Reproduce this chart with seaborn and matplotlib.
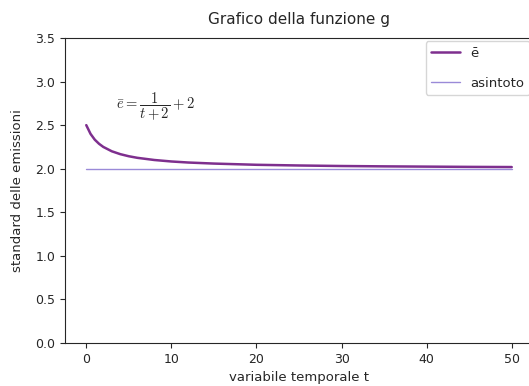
import numpy as np
import pandas as pd
import seaborn as sns
import matplotlib.pyplot as plt

# values
t_vals = [0, 0.5, 1, 1.5, 2, 3, 4, 5, 6, 8, 10, 12, 15, 20, 25, 30, 35, 40, 45, 50]
e_vals = [2.50, 2.40, 2.333, 2.286, 2.25, 2.20, 2.167, 2.143, 2.125, 2.10, 2.083,
          2.071, 2.059, 2.045, 2.037, 2.031, 2.027, 2.024, 2.021, 2.019]
asym_t = [0, 50]
asym_y = [2.0, 2.0]

sns.set_style("ticks")
plt.rcParams['mathtext.fontset'] = 'cm'

fig = plt.figure(figsize=(5.29, 3.86), dpi=100)
# axes run a little past the right edge, as in the (cropped) reference
ax = fig.add_axes([65 / 529, 43 / 386, 468 / 529, 305 / 386])

df = pd.DataFrame({"t": t_vals, "e": e_vals})
df_as = pd.DataFrame({"t": asym_t, "y": asym_y})

sns.lineplot(data=df, x="t", y="e", ax=ax, color="#7e2f8e", linewidth=1.8, label="ē")
sns.lineplot(data=df_as, x="t", y="y", ax=ax, color="#9a8ad8", linewidth=1.0, label="asintoto")

ax.set_ylim(0, 3.5)
ax.set_xlim(-2.5, 52.5)
ax.set_xticks([0, 10, 20, 30, 40, 50])
ax.set_yticks([0.0, 0.5, 1.0, 1.5, 2.0, 2.5, 3.0, 3.5])
ax.tick_params(labelsize=9, length=3.5)

ax.set_title("Grafico della funzione g", fontsize=11, pad=10)
ax.set_xlabel("variabile temporale t", fontsize=9.5, labelpad=3.5)
ax.set_ylabel("standard delle emissioni", fontsize=9.5, labelpad=8)

ax.text(3.5, 2.71, r"$\bar{e} = \dfrac{1}{t+2} + 2$", fontsize=10.5, va="center")

ax.legend(loc="upper right", fontsize=9.5, labelspacing=1.3, handlelength=2.2,
          borderaxespad=0.25)

fig.savefig("out.png", dpi=100)
